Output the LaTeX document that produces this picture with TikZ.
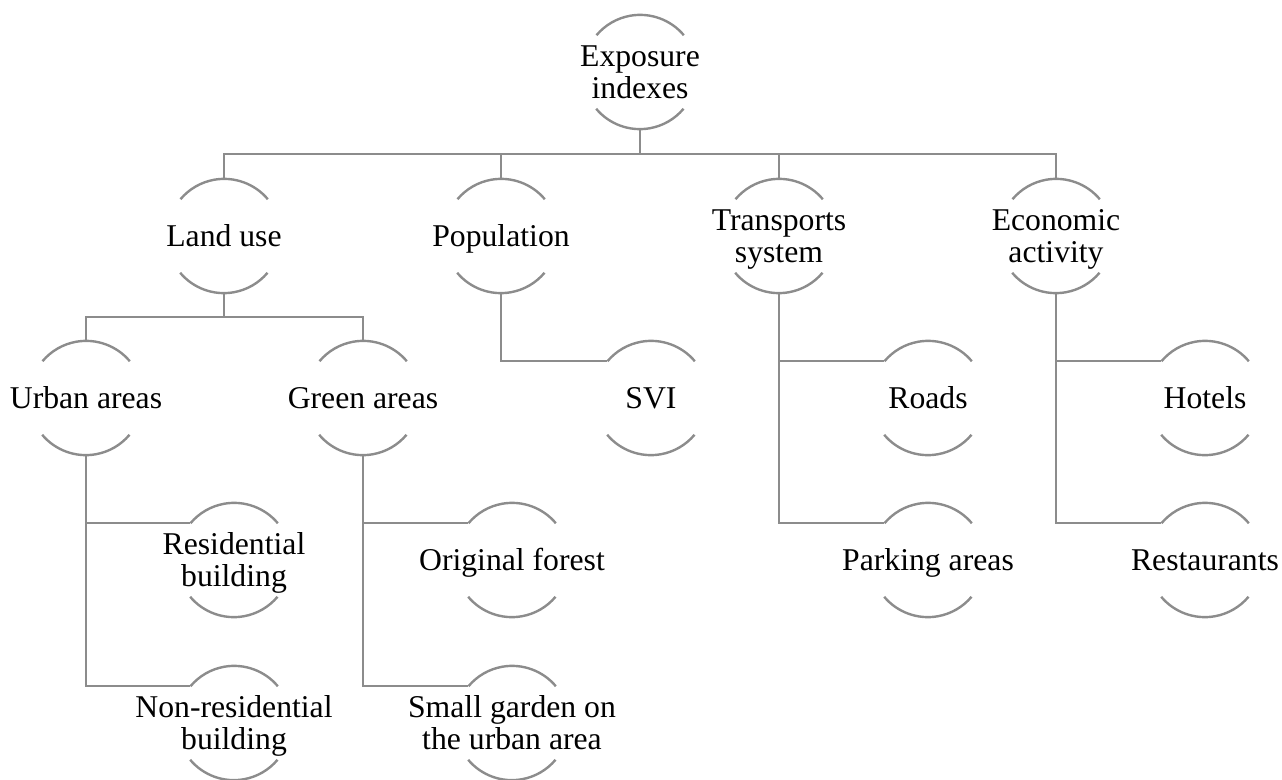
\documentclass[tikz,border=0pt]{standalone}
\usepackage{fontspec}
\setmainfont{Liberation Serif}
\definecolor{lnc}{HTML}{8C8C8C}
\newcommand\one[1]{\makebox[0pt]{\raisebox{-0.33em}[0pt][0pt]{#1}}}
\newcommand\two[2]{\makebox[0pt]{\raisebox{0.17em}[0pt][0pt]{\begin{tabular}[t]{@{}c@{}}#1\\#2\end{tabular}}}}
\tikzset{
  item/.style={circle, inner sep=0pt, minimum size=114pt, font=\fontsize{31.7}{31.7}\selectfont, text=black},
  conn/.style={draw=lnc, line width=2.4pt},
  rim/.style={draw=lnc, line width=2.4pt}
}
\begin{document}
\begin{tikzpicture}[x=1pt,y=-1pt]
\useasboundingbox (0,0) rectangle (1282,779);
\node[item] (root) at (640,72) {\two{Exposure}{indexes}};
\node[item] (land) at (224,236) {\one{Land use}};
\node[item] (pop) at (501,236) {\one{Population}};
\node[item] (trans) at (779,236) {\two{Transports}{system}};
\node[item] (econ) at (1056,236) {\two{Economic}{activity}};
\node[item] (urban) at (86,398) {\one{Urban areas}};
\node[item] (green) at (363,398) {\one{Green areas}};
\node[item] (svi) at (651,398) {\one{SVI}};
\node[item] (roads) at (928,398) {\one{Roads}};
\node[item] (hotels) at (1205,398) {\one{Hotels}};
\node[item] (resid) at (234,560) {\two{Residential}{building}};
\node[item] (forest) at (512,560) {\one{Original forest}};
\node[item] (parking) at (928,560) {\one{Parking areas}};
\node[item] (rest) at (1205,560) {\one{Restaurants}};
\node[item] (nonres) at (234,723) {\two{Non-residential}{building}};
\node[item] (garden) at (512,723) {\two{Small garden on}{the urban area}};
\foreach \n in {root,land,pop,trans,econ,urban,green,svi,roads,hotels,resid,forest,parking,rest,nonres,garden}{
  \draw[rim] (\n.40) arc[start angle=40, end angle=140, radius=57pt];
  \draw[rim] (\n.220) arc[start angle=220, end angle=320, radius=57pt];
}
\coordinate (bar0) at (640,154);
\coordinate (bar1) at (224,317);
\draw[conn] (root.south) -- (bar0);
\draw[conn] (land.north) -- (land.north |- bar0) -- (econ.north |- bar0) -- (econ.north);
\draw[conn] (pop.north) -- (pop.north |- bar0);
\draw[conn] (trans.north) -- (trans.north |- bar0);
\draw[conn] (land.south) -- (bar1);
\draw[conn] (urban.north) -- (urban.north |- bar1) -- (green.north |- bar1) -- (green.north);
\draw[conn] (pop.south) |- (svi.140);
\draw[conn] (trans.south) |- (roads.140);
\draw[conn] (trans.south) |- (parking.140);
\draw[conn] (econ.south) |- (hotels.140);
\draw[conn] (econ.south) |- (rest.140);
\draw[conn] (urban.south) |- (resid.140);
\draw[conn] (urban.south) |- (nonres.140);
\draw[conn] (green.south) |- (forest.140);
\draw[conn] (green.south) |- (garden.140);
\end{tikzpicture}
\end{document}
